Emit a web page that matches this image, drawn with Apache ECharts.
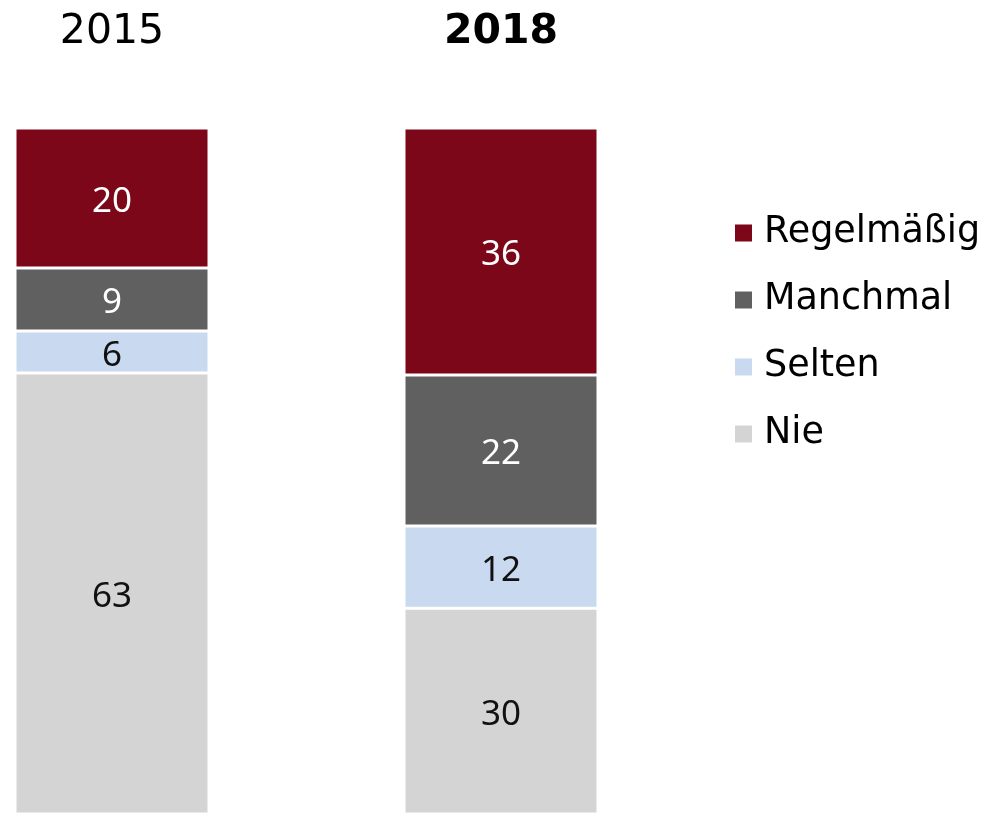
<!DOCTYPE html>
<html>
<head>
<meta charset="utf-8">
<style>
  html, body { margin: 0; padding: 0; background: #fff; }
  #chart { width: 984px; height: 814px; }
</style>
<script src="https://cdn.jsdelivr.net/npm/echarts@6/dist/echarts.min.js"></script>
</head>
<body>
<div id="chart"></div>
<script>
// Kategorien (von unten nach oben gestapelt)
const years = ['2015', '2018']
const seriesNames = ['Nie', 'Selten', 'Manchmal', 'Regelmäßig']
const legendOrder = ['Regelmäßig', 'Manchmal', 'Selten', 'Nie']

// Werte je Jahr, Reihenfolge wie seriesNames
const values2015 = [63, 6, 9, 20]
const values2018 = [30, 12, 22, 36]

const colors = {
  'Nie': '#d4d4d4',
  'Selten': '#c9d9f0',
  'Manchmal': '#606060',
  'Regelmäßig': '#7b0719'
}
const labelColors = {
  'Nie': '#111',
  'Selten': '#111',
  'Manchmal': '#fff',
  'Regelmäßig': '#fff'
}

const chart = echarts.init(document.getElementById('chart'))

const perYear = [values2015, values2018]
const gridLefts = [15, 404]

const sum = arr => arr.reduce((a, b) => a + b, 0)

const grids = gridLefts.map(l => ({ left: l, width: 194, top: 128, bottom: 0 }))

const xAxes = years.map((y, i) => ({
  type: 'category',
  gridIndex: i,
  position: 'top',
  data: [y],
  axisLine: { show: false },
  axisTick: { show: false },
  axisLabel: {
    margin: 75,
    fontFamily: 'DejaVu Sans',
    fontSize: 41,
    color: '#000',
    fontWeight: i === 1 ? 'bold' : 'normal'
  }
}))

const yAxes = perYear.map((vals, i) => ({
  type: 'value',
  gridIndex: i,
  min: 0,
  max: sum(vals),
  show: false,
  splitLine: { show: false }
}))

const series = []
perYear.forEach((vals, i) => {
  seriesNames.forEach((name, k) => {
    series.push({
      name,
      type: 'bar',
      xAxisIndex: i,
      yAxisIndex: i,
      stack: 'y' + i,
      barWidth: '100%',
      data: [vals[k]],
      itemStyle: { color: colors[name], borderColor: '#fff', borderWidth: 1.5 },
      label: {
        show: true,
        position: 'inside',
        offset: [0, 4],
        fontFamily: 'Noto Sans',
        fontSize: 35,
        color: labelColors[name]
      }
    })
  })
})

chart.setOption({
  animation: false,
  grid: grids,
  xAxis: xAxes,
  yAxis: yAxes,
  legend: {
    data: legendOrder,
    orient: 'vertical',
    left: 733,
    top: 213,
    padding: 0,
    icon: 'rect',
    itemWidth: 19,
    itemHeight: 19,
    itemGap: 27,
    textStyle: { fontFamily: 'DejaVu Sans', fontSize: 36.5, color: '#000', lineHeight: 40, padding: [0, 0, 0, 6] }
  },
  series
})
</script>
</body>
</html>
